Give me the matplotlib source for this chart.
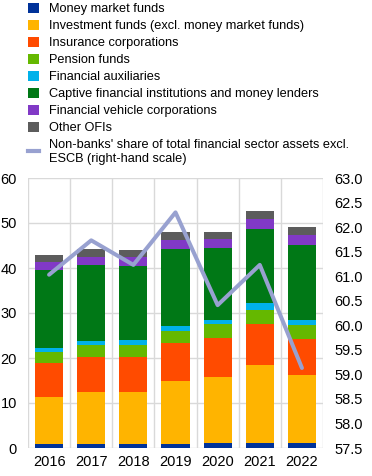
import matplotlib
matplotlib.use("Agg")
import matplotlib.pyplot as plt
from matplotlib.patches import Patch
from matplotlib.lines import Line2D
import numpy as np

plt.rcParams['font.family'] = ['Liberation Sans', 'DejaVu Sans']

years = ["2016", "2017", "2018", "2019", "2020", "2021", "2022"]
money_market = [1.0, 1.0, 1.0, 1.0, 1.2, 1.2, 1.2]
investment = [10.4, 11.5, 11.5, 13.8, 14.5, 17.15, 15.1]
insurance = [7.45, 7.7, 7.8, 8.5, 8.65, 9.15, 7.9]
pension = [2.4, 2.65, 2.55, 2.8, 3.1, 3.1, 3.1]
auxiliaries = [1.0, 0.85, 1.15, 1.1, 1.1, 1.6, 1.05]
captive = [17.3, 16.9, 16.4, 17.0, 15.8, 16.4, 16.7]
fvc = [1.8, 1.9, 2.0, 2.0, 2.2, 2.3, 2.35]
other_ofis = [1.5, 1.7, 1.6, 1.8, 1.5, 1.7, 1.7]
nonbank_share = [61.03, 61.73, 61.23, 62.3, 60.41, 61.23, 59.13]

labels = ["Money market funds",
          "Investment funds (excl. money market funds)",
          "Insurance corporations",
          "Pension funds",
          "Financial auxiliaries",
          "Captive financial institutions and money lenders",
          "Financial vehicle corporations",
          "Other OFIs"]
line_label = "Non-banks' share of total financial sector assets excl.\nESCB (right-hand scale)"
colors = ["#003299", "#ffb400", "#ff4b00", "#65b800", "#00b1ea",
          "#007816", "#8139c6", "#5c5c5c"]
line_color = "#98a1d0"

series = [money_market, investment, insurance, pension, auxiliaries,
          captive, fvc, other_ofis]

fig = plt.figure(figsize=(3.72, 4.76), dpi=100)
ax = fig.add_axes([28/372, 1 - 448/476, (323-28)/372, (448-178)/476])
x = np.arange(len(years))
bottom = np.zeros(len(years))
for vals, c in zip(series, colors):
    ax.bar(x, vals, bottom=bottom, width=0.67, color=c, zorder=3)
    bottom += np.array(vals)

ax.set_xlim(-0.5, len(years) - 0.5)
ax.set_ylim(0, 60)
ax.set_yticks(range(0, 61, 10))
ax.set_xticks(x)
ax.set_xticklabels(years)
ax.set_xticks(np.arange(-0.5, len(years), 1.0), minor=True)
ax.grid(axis='y', color='#d9d9d9', linewidth=1, zorder=0)
ax.grid(axis='x', which='minor', color='#d9d9d9', linewidth=1, zorder=0)
ax.grid(axis='x', which='major', visible=False)
for s in ax.spines.values():
    s.set_visible(False)
ax.tick_params(axis='both', which='both', length=0, labelsize=10.5, colors='#000000')
ax.tick_params(axis='y', pad=8)
ax.tick_params(axis='x', pad=5)

ax2 = ax.twinx()
ax2.plot(x, nonbank_share, color=line_color, linewidth=2.9, zorder=5,
         solid_capstyle='round')
ax2.set_ylim(57.5, 63.0)
ax2.set_yticks(np.arange(57.5, 63.01, 0.5))
ax2.set_yticklabels([f"{v:.1f}" for v in np.arange(57.5, 63.01, 0.5)])
for s in ax2.spines.values():
    s.set_visible(False)
ax2.tick_params(axis='y', length=0, labelsize=10.5, pad=8)

handles = [Patch(facecolor=c, edgecolor='none') for c in colors]
handles.append(Line2D([0], [0], color=line_color, linewidth=3))
fig.legend(handles, labels + [line_label], loc='upper left',
           bbox_to_anchor=(26/372, 1 - 1/476), frameon=False,
           fontsize=9.2, handlelength=0.85, handleheight=0.85,
           handletextpad=0.8, labelspacing=0.35, borderaxespad=0,
           borderpad=0.15)

fig.savefig("out.png", dpi=100)
